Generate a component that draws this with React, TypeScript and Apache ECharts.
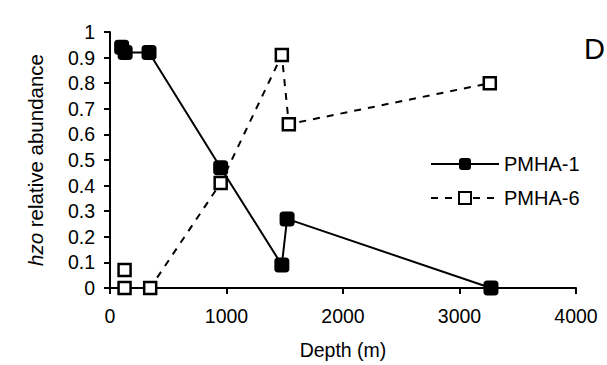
import React, { useEffect, useRef } from "react";
import * as echarts from "echarts";

const depthsPMHA1 = [100, 130, 335, 950, 1475, 1520, 3270];
const valuesPMHA1 = [0.94, 0.92, 0.92, 0.47, 0.09, 0.27, 0];
const depthsPMHA6 = [125, 125, 345, 950, 1475, 1535, 3260];
const valuesPMHA6 = [0.07, 0, 0, 0.41, 0.91, 0.64, 0.8];
const seriesNames = ["PMHA-1", "PMHA-6"];

export default function App() {
  const ref = useRef<HTMLDivElement>(null);
  useEffect(() => {
    if (!ref.current) return;
    const chart = echarts.init(ref.current, null, { renderer: "svg" });
    const font = "Liberation Sans, Arial, sans-serif";
    chart.setOption({
      animation: false,
      backgroundColor: "#ffffff",
      grid: { left: 110, right: 31, top: 32, bottom: 72, containLabel: false },
      legend: {
        orient: "vertical",
        left: 425,
        top: 149,
        itemWidth: 68,
        itemHeight: 15,
        itemGap: 14,
        textStyle: { fontFamily: font, fontSize: 20, color: "#000" },
        data: seriesNames,
      },
      xAxis: {
        type: "value",
        min: 0,
        max: 4000,
        interval: 1000,
        name: "Depth (m)",
        nameLocation: "middle",
        nameGap: 52,
        nameTextStyle: { fontFamily: font, fontSize: 19.5, color: "#000" },
        axisLine: { show: true, lineStyle: { color: "#000", width: 2 } },
        axisTick: { show: true, length: 6, lineStyle: { color: "#000", width: 2 } },
        axisLabel: {
          fontFamily: font,
          fontSize: 19.5,
          color: "#000",
          margin: 18,
          formatter: (v: number) => String(v),
        },
        splitLine: { show: false },
      },
      yAxis: {
        type: "value",
        min: 0,
        max: 1,
        interval: 0.1,
        name: "{i|hzo} relative abundance",
        nameLocation: "middle",
        nameGap: 64,
        nameRotate: 90,
        nameTextStyle: {
          fontFamily: font,
          fontSize: 20.5,
          color: "#000",
          rich: { i: { fontStyle: "italic", fontFamily: font, fontSize: 20.5, color: "#000" } },
        },
        axisLine: { show: true, lineStyle: { color: "#000", width: 2 } },
        axisTick: { show: true, length: 6, lineStyle: { color: "#000", width: 2 } },
        axisLabel: {
          fontFamily: font,
          fontSize: 19.5,
          color: "#000",
          margin: 15,
          formatter: (v: number) => (v === 0 ? "0" : v === 1 ? "1" : v.toFixed(1)),
        },
        splitLine: { show: false },
      },
      graphic: [
        {
          type: "text",
          left: 584,
          top: 34,
          style: { text: "D", fontFamily: font, fontSize: 29, fill: "#000" },
        },
      ],
      series: [
        {
          name: seriesNames[0],
          type: "line",
          data: depthsPMHA1.map((d, i) => [d, valuesPMHA1[i]]),
          symbol: "roundRect",
          symbolSize: 15,
          itemStyle: { color: "#000", borderColor: "#000", borderWidth: 0 },
          lineStyle: { color: "#000", width: 2 },
          z: 2,
        },
        {
          name: seriesNames[1],
          type: "line",
          data: depthsPMHA6.map((d, i) => [d, valuesPMHA6[i]]),
          symbol: "rect",
          symbolSize: 12,
          itemStyle: { color: "#fff", borderColor: "#000", borderWidth: 2.5 },
          lineStyle: { color: "#000", width: 2, type: [7, 7] },
          z: 3,
        },
      ],
    });
    return () => chart.dispose();
  }, []);
  return (
    <div
      ref={ref}
      style={{ position: "fixed", left: 0, top: 0, width: 607, height: 365 }}
    />
  );
}
